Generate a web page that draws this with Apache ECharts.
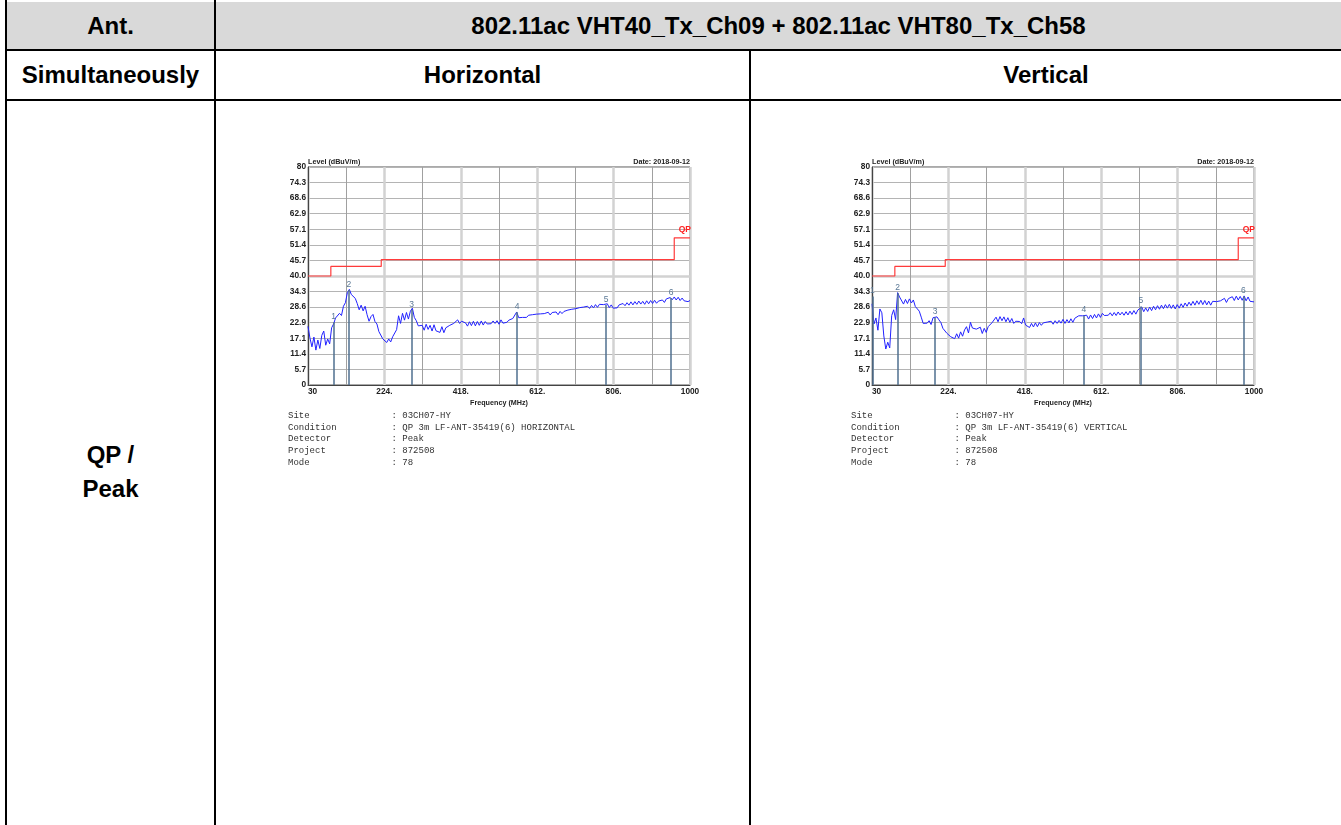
<!DOCTYPE html>
<html><head><meta charset="utf-8">
<script src="https://cdn.jsdelivr.net/npm/echarts/dist/echarts.min.js"></script>
<style>
html,body{margin:0;padding:0;background:#fff;width:1341px;height:825px;overflow:hidden;}
.abs{position:absolute;}
.ln{position:absolute;background:#000;}
.cell{position:absolute;display:flex;align-items:center;justify-content:center;font-family:"Liberation Sans",Arial,sans-serif;font-weight:bold;font-size:24px;color:#000;line-height:1;}
#chart{position:absolute;left:0;top:0;width:1341px;height:825px;}
</style></head>
<body>
<div class="abs" style="left:7px;top:2px;width:1334px;height:47px;background:#d9d9d9"></div>
<div class="ln" style="left:5px;top:0;width:2px;height:825px"></div>
<div class="ln" style="left:5px;top:49px;width:1336px;height:2px"></div>
<div class="ln" style="left:5px;top:99px;width:1336px;height:2px"></div>
<div class="ln" style="left:214px;top:0;width:2px;height:825px"></div>
<div class="ln" style="left:749px;top:50px;width:2px;height:775px"></div>
<div class="cell" style="left:7px;top:2px;width:207px;height:47px">Ant.</div>
<div class="cell" style="left:216px;top:2px;width:1125px;height:47px">802.11ac VHT40_Tx_Ch09 + 802.11ac VHT80_Tx_Ch58</div>
<div class="cell" style="left:7px;top:51px;width:207px;height:48px">Simultaneously</div>
<div class="cell" style="left:216px;top:51px;width:533px;height:48px">Horizontal</div>
<div class="cell" style="left:751px;top:51px;width:590px;height:48px">Vertical</div>
<div class="cell" style="left:7px;top:440px;width:207px;height:30px">QP /</div>
<div class="cell" style="left:7px;top:474px;width:207px;height:30px">Peak</div>
<div id="chart"></div>
<script>
// ---- data ----
const freqStart = 30;
const freqStep = 5;
const hLevel = [
  21.5, 17.2, 14.0, 17.6, 12.8, 16.5, 13.4, 18.2, 19.8, 14.6,
  16.9, 15.1, 21.0, 22.4, 24.6, 24.2, 26.3, 25.5, 28.9, 30.2,
  33.9, 35.1, 33.2, 33.9, 31.8, 29.9, 27.6, 29.3, 27.2, 28.9,
  25.8, 23.4, 25.1, 25.9, 23.3, 22.4, 19.6, 19.0, 16.9, 17.3,
  15.6, 16.9, 15.8, 17.7, 18.0, 20.3, 25.4, 22.6, 26.3, 23.8,
  26.6, 24.2, 27.1, 28.2, 24.8, 23.6, 21.7, 22.0, 21.9, 20.1,
  22.3, 20.4, 21.9, 19.8, 22.1, 19.9, 20.5, 19.3, 21.4, 19.2,
  21.0, 20.4, 21.9, 21.3, 22.6, 22.4, 23.9, 22.6, 23.4, 22.8,
  22.8, 21.6, 23.2, 21.8, 23.4, 21.7, 23.3, 21.9, 23.5, 22.0,
  23.3, 22.4, 23.1, 22.5, 23.5, 22.6, 23.6, 22.3, 23.9, 22.7,
  23.3, 23.0, 23.8, 23.6, 24.4, 24.7, 26.8, 24.7, 25.3, 24.8,
  25.5, 24.8, 25.6, 25.1, 25.8, 25.2, 26.0, 25.3, 26.1, 25.6,
  26.2, 25.5, 26.7, 25.7, 26.6, 25.9, 26.8, 25.8, 27.0, 26.2,
  27.0, 26.6, 27.5, 26.8, 27.8, 27.1, 28.0, 27.3, 28.4, 27.8,
  28.6, 27.9, 28.9, 28.1, 29.2, 28.3, 29.5, 28.5, 29.6, 28.9,
  29.5, 28.9, 29.8, 28.4, 29.4, 28.2, 28.9, 28.3, 29.4, 28.8,
  29.9, 29.1, 30.2, 29.3, 30.5, 29.4, 30.6, 29.6, 30.8, 29.7,
  30.7, 29.6, 30.9, 29.8, 31.0, 29.9, 31.1, 30.0, 30.8, 30.6,
  31.2, 30.3, 31.6, 30.9, 32.1, 31.3, 32.3, 31.2, 32.2, 31.0,
  31.9, 30.9, 31.6, 30.6, 31.0
];
const vLevel = [
  29.8, 22.4, 24.6, 20.1, 27.9, 26.5, 18.0, 13.2, 15.7, 13.6,
  25.5, 27.6, 24.0, 33.9, 32.3, 31.9, 29.7, 31.4, 29.9, 31.6,
  30.1, 31.2, 28.8, 28.7, 27.1, 24.9, 22.6, 23.1, 22.7, 23.6,
  22.2, 24.7, 24.3, 25.0, 23.9, 22.9, 20.8, 20.9, 19.0, 19.4,
  17.7, 18.3, 17.0, 18.8, 17.2, 19.5, 17.9, 20.2, 21.4, 19.1,
  23.0, 20.9, 21.0, 20.5, 19.9, 21.2, 18.9, 20.8, 19.3, 21.4,
  21.0, 22.9, 23.0, 24.9, 23.2, 25.1, 23.6, 25.0, 23.2, 24.7,
  23.0, 24.4, 22.6, 23.4, 22.9, 23.3, 22.5, 24.6, 22.0, 22.5,
  21.1, 22.6, 21.3, 22.8, 21.4, 22.9, 21.9, 22.8, 22.3, 23.1,
  22.5, 23.4, 22.3, 23.6, 22.6, 23.7, 22.7, 24.1, 22.6, 24.0,
  22.8, 24.3, 23.0, 24.5, 23.8, 25.4, 24.7, 25.4, 24.9, 25.6,
  24.2, 25.7, 24.4, 25.9, 24.6, 26.1, 24.8, 26.3, 25.5, 26.2,
  25.6, 26.5, 25.4, 26.6, 25.5, 26.8, 25.7, 26.7, 25.6, 26.9,
  25.7, 27.1, 25.9, 27.3, 26.0, 27.5, 27.1, 28.6, 26.9, 28.3,
  27.0, 28.6, 27.3, 28.9, 27.6, 29.1, 27.8, 29.3, 28.0, 29.5,
  28.2, 29.6, 28.1, 29.4, 27.9, 29.5, 28.2, 29.8, 28.5, 30.1,
  28.9, 30.4, 29.2, 30.7, 29.3, 30.9, 29.6, 31.1, 29.5, 31.0,
  29.4, 30.8, 29.3, 30.7, 30.0, 30.6, 30.2, 30.9, 30.4, 31.8,
  30.3, 31.7, 31.1, 32.4, 31.0, 32.6, 31.2, 32.5, 31.1, 32.7,
  30.9, 32.3, 30.7, 31.4, 30.5
];
const limitFreq = [30, 88, 216, 960, 1000];
const limitLevel = [40, 43.5, 46, 54, 54];
const hMarkerFreq = [95, 134, 293, 561, 787, 952];
const hMarkerLevel = [23.0, 34.9, 27.6, 26.7, 29.4, 31.9];
const vMarkerFreq = [31, 95, 190, 568, 713, 973];
const vMarkerLevel = [32.5, 33.7, 24.8, 25.5, 28.8, 32.5];
const yTickLabels = ['0','5.7','11.4','17.1','22.9','28.6','34.3','40.0','45.7','51.4','57.1','62.9','68.6','74.3','80'];
const xTickLabels = ['30','224.','418.','612.','806.','1000'];
const infoKeys = ['Site','Condition','Detector','Project','Mode'];
const hInfo = [': 03CH07-HY', ': QP 3m LF-ANT-35419(6) HORIZONTAL', ': Peak', ': 872508', ': 78'];
const vInfo = [': 03CH07-HY', ': QP 3m LF-ANT-35419(6) VERTICAL', ': Peak', ': 872508', ': 78'];

// ---- chart ----
const X_MIN = 30, X_MAX = 1000, X_MAJ = 194, X_MIN_STEP = 97;
const Y_MAX = 80, Y_STEP = 80 / 14;
const FONT = '"Liberation Sans", Arial, sans-serif';
const grids = [
  {left: 308, top: 167, width: 382, height: 218},
  {left: 872, top: 167, width: 382, height: 218}
];
const thinY = yTickLabels.map((_, i) => i === 7 ? 'rgba(0,0,0,0)' : '#b4b4b4');

const xAxis = [], yAxis = [], series = [], graphic = [];
grids.forEach((g, gi) => {
  xAxis.push({
    gridIndex: gi, type: 'value', min: X_MIN, max: X_MAX, interval: X_MAJ, position: 'bottom',
    axisLine: {show: true, lineStyle: {color: '#444', width: 1}},
    axisTick: {show: false},
    axisLabel: {show: true, margin: 3, color: '#222', fontFamily: FONT, fontWeight: 'bold', fontSize: 8.3,
      alignMinLabel: 'left', alignMaxLabel: 'center',
      formatter: v => xTickLabels[Math.round((v - X_MIN) / X_MAJ)]},
    splitLine: {show: true, lineStyle: {color: '#d2d2d2', width: 2.5}},
    name: 'Frequency (MHz)', nameLocation: 'middle', nameGap: 15,
    nameTextStyle: {color: '#222', fontFamily: FONT, fontWeight: 'bold', fontSize: 7.2}
  });
  xAxis.push({
    gridIndex: gi, type: 'value', min: X_MIN, max: X_MAX, interval: X_MIN_STEP, position: 'top',
    axisLine: {show: false}, axisTick: {show: false}, axisLabel: {show: false},
    splitLine: {show: true, lineStyle: {color: ['rgba(0,0,0,0)', '#a0a0a0'], width: 1}}
  });
  yAxis.push({
    gridIndex: gi, type: 'value', min: 0, max: Y_MAX, interval: Y_STEP, position: 'left',
    axisLine: {show: true, lineStyle: {color: '#444', width: 1}},
    axisTick: {show: false},
    axisLabel: {show: true, margin: 2, color: '#222', fontFamily: FONT, fontWeight: 'bold', fontSize: 8.3,
      formatter: v => yTickLabels[Math.round(v / Y_STEP)]},
    splitLine: {show: true, lineStyle: {color: thinY, width: 1}}
  });
  yAxis.push({
    gridIndex: gi, type: 'value', min: 0, max: Y_MAX, interval: 40, position: 'right',
    axisLine: {show: false}, axisTick: {show: false}, axisLabel: {show: false},
    splitLine: {show: true, lineStyle: {color: ['rgba(0,0,0,0)', '#d2d2d2', 'rgba(0,0,0,0)'], width: 2.5}}
  });
  const level = gi === 0 ? hLevel : vLevel;
  const mFreq = gi === 0 ? hMarkerFreq : vMarkerFreq;
  const mLevel = gi === 0 ? hMarkerLevel : vMarkerLevel;
  const xi = gi * 2, yi = gi * 2;
  series.push({
    type: 'line', xAxisIndex: xi, yAxisIndex: yi, silent: true, animation: false,
    data: limitFreq.map((f, i) => i === limitFreq.length - 1
      ? {value: [f, limitLevel[i]], label: {show: true, formatter: 'QP', position: 'top', align: 'right', offset: [1, 1],
          color: '#ff2020', fontFamily: FONT, fontWeight: 'bold', fontSize: 8.5}}
      : [f, limitLevel[i]]),
    step: 'end', showSymbol: true, symbol: 'circle', symbolSize: 0,
    lineStyle: {color: '#ff3b3b', width: 1.2}, z: 3
  });
  series.push({
    type: 'line', xAxisIndex: xi, yAxisIndex: yi, silent: true, animation: false,
    data: level.map((v, i) => [freqStart + i * freqStep, v]),
    showSymbol: false, symbol: 'none',
    lineStyle: {color: '#2222ff', width: 1}, z: 4,
    markLine: {
      silent: true, symbol: 'none', animation: false,
      lineStyle: {color: '#4f6f8f', width: 1.5, type: 'solid'},
      label: {show: true, position: 'end', formatter: '{b}', color: '#5a7895', fontFamily: FONT, fontSize: 8.5, distance: 1},
      data: mFreq.map((f, i) => [{coord: [f, 0], name: String(i + 1)}, {coord: [f, mLevel[i]]}])
    }
  });
  graphic.push({type: 'text', silent: true, style: {x: g.left, y: g.top - 4.5, text: 'Level (dBuV/m)', fill: '#222',
    font: 'bold 7.2px ' + FONT, textVerticalAlign: 'middle', textAlign: 'left'}});
  graphic.push({type: 'text', silent: true, style: {x: g.left + g.width, y: g.top - 4.5, text: 'Date: 2018-09-12', fill: '#222',
    font: 'bold 7.2px ' + FONT, textVerticalAlign: 'middle', textAlign: 'right'}});
  const info = gi === 0 ? hInfo : vInfo;
  const kx = gi === 0 ? 288 : 851;
  infoKeys.forEach((k, i) => {
    const y = 415.7 + i * 11.65;
    graphic.push({type: 'text', silent: true, style: {x: kx, y: y, text: k, fill: '#333',
      font: '9px "Liberation Mono", "DejaVu Sans Mono", monospace', textVerticalAlign: 'middle'}});
    graphic.push({type: 'text', silent: true, style: {x: kx + 103.5, y: y, text: info[i], fill: '#333',
      font: '9px "Liberation Mono", "DejaVu Sans Mono", monospace', textVerticalAlign: 'middle'}});
  });
});

const chart = echarts.init(document.getElementById('chart'), null, {renderer: 'canvas'});
chart.setOption({
  animation: false,
  backgroundColor: 'transparent',
  grid: grids.map(g => Object.assign({show: true, borderColor: '#555', borderWidth: 1, backgroundColor: '#fff', containLabel: false}, g)),
  xAxis, yAxis, series, graphic
});
</script>
</body></html>
